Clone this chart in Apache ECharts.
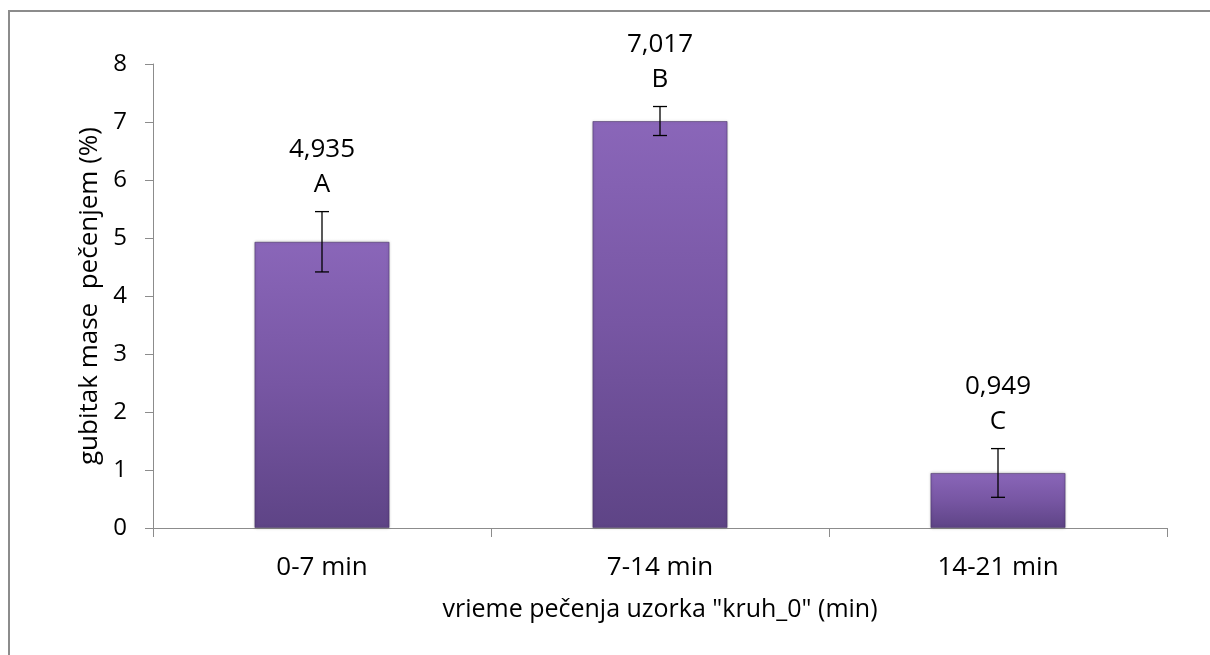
<!DOCTYPE html>
<html>
<head>
<meta charset="utf-8">
<script src="https://cdn.jsdelivr.net/npm/echarts@6/dist/echarts.min.js"></script>
<style>
html,body{margin:0;padding:0;background:#fff;}
#chart{width:1210px;height:655px;}
</style>
</head>
<body>
<div id="chart"></div>
<script>
const categories = ['0-7 min', '7-14 min', '14-21 min'];
const values = [4.935, 7.017, 0.949];
const errors = [0.52, 0.25, 0.42];
const letters = ['A', 'B', 'C'];
const valueLabels = ['4,935', '7,017', '0,949'];
const yTicks = [0, 1, 2, 3, 4, 5, 6, 7, 8];

const FONT = '"Open Sans", sans-serif';
const chart = echarts.init(document.getElementById('chart'));

const errData = values.map((v, i) => [i, v, errors[i]]);

chart.setOption({
  animation: false,
  backgroundColor: '#fff',
  graphic: [{
    type: 'polyline',
    shape: { points: [[9, 1000], [9, 11], [1400, 11]] },
    style: { fill: 'none', stroke: '#8c8c8c', lineWidth: 2 },
    z: 100
  }],
  grid: { left: 153, right: 43, top: 64, bottom: 127 },
  xAxis: {
    type: 'category',
    data: categories,
    boundaryGap: true,
    axisLine: { lineStyle: { color: '#8c8c8c', width: 1 } },
    axisTick: { show: true, length: 9, lineStyle: { color: '#8c8c8c' } },
    axisLabel: { color: '#000', fontFamily: FONT, fontSize: 26, margin: 27 },
    name: 'vrieme pečenja uzorka "kruh_0" (min)',
    nameLocation: 'middle',
    nameGap: 69,
    nameTextStyle: { color: '#000', fontFamily: FONT, fontSize: 25 }
  },
  yAxis: {
    type: 'value',
    min: yTicks[0],
    max: yTicks[yTicks.length - 1],
    interval: 1,
    splitLine: { show: false },
    axisLine: { show: true, lineStyle: { color: '#8c8c8c', width: 1 } },
    axisTick: { show: true, length: 8, lineStyle: { color: '#8c8c8c' } },
    axisLabel: { color: '#000', fontFamily: FONT, fontSize: 24, margin: 26 },
    name: 'gubitak mase  pečenjem (%)',
    nameLocation: 'middle',
    nameGap: 50,
    nameTextStyle: { color: '#000', fontFamily: FONT, fontSize: 26 }
  },
  series: [
    {
      type: 'bar',
      data: values,
      barWidth: '40%',
      itemStyle: {
        color: new echarts.graphic.LinearGradient(0, 0, 0, 1, [
          { offset: 0, color: '#8a66b9' },
          { offset: 0.5, color: '#7756a3' },
          { offset: 1, color: '#5e4486' }
        ]),
        borderColor: 'rgba(70,50,100,0.55)',
        borderWidth: 1,
        shadowColor: 'rgba(0,0,0,0.25)',
        shadowBlur: 3
      }
    },
    {
      type: 'custom',
      data: errData,
      z: 10,
      renderItem: function (params, api) {
        const i = api.value(0);
        const v = api.value(1);
        const e = api.value(2);
        const top = api.coord([i, v + e]);
        const bot = api.coord([i, v - e]);
        const hw = 7;
        const style = { stroke: '#000', lineWidth: 1.3 };
        const tstyle = (t) => ({ text: t, fill: '#000', font: '26px ' + FONT, align: 'center', verticalAlign: 'middle' });
        return {
          type: 'group',
          children: [
            { type: 'line', shape: { x1: top[0], y1: top[1], x2: bot[0], y2: bot[1] }, style: style },
            { type: 'line', shape: { x1: top[0] - hw, y1: top[1], x2: top[0] + hw, y2: top[1] }, style: style },
            { type: 'line', shape: { x1: bot[0] - hw, y1: bot[1], x2: bot[0] + hw, y2: bot[1] }, style: style },
            { type: 'text', x: top[0], y: top[1] - 27, style: tstyle(letters[params.dataIndex]) },
            { type: 'text', x: top[0], y: top[1] - 62, style: tstyle(valueLabels[params.dataIndex]) }
          ]
        };
      }
    }
  ]
});
</script>
</body>
</html>
